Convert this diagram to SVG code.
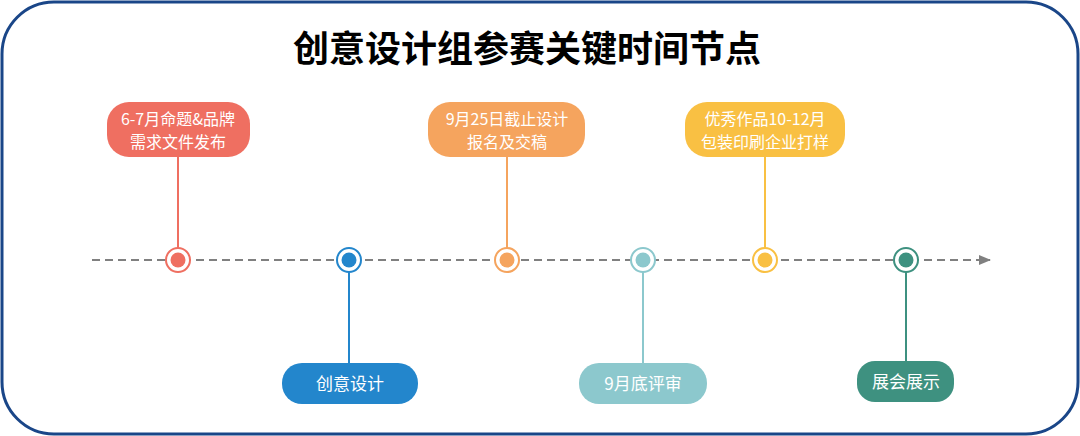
<svg xmlns="http://www.w3.org/2000/svg" width="1080" height="436" viewBox="0 0 1080 436">
<defs>
<style>
.t{font-family:"Noto Sans CJK SC","Noto Sans",sans-serif;font-size:16px;fill:#ffffff;text-anchor:middle}
.t2{font-family:"Noto Sans CJK SC","Noto Sans",sans-serif;font-size:17px;fill:#ffffff;text-anchor:middle}
.title{font-family:"Noto Sans CJK SC","Noto Sans",sans-serif;font-size:36px;font-weight:bold;fill:#000000;text-anchor:middle}
.ring{fill:#ffffff;stroke-width:2}
.stem{stroke-width:2;fill:none}
</style>
<marker id="arr" markerWidth="12" markerHeight="10" refX="11" refY="5" orient="auto" markerUnits="userSpaceOnUse">
<path d="M0,0 L12,5 L0,10 Z" fill="#808080"/>
</marker>
</defs>
<rect x="0" y="0" width="1080" height="436" fill="#ffffff"/>
<rect x="2" y="2" width="1076" height="432" rx="52" ry="52" fill="#ffffff" stroke="#1a4688" stroke-width="3"/>
<text class="title" x="527" y="62">创意设计组参赛关键时间节点</text>
<g id="connectors">
<line x1="92" y1="260" x2="990" y2="260" stroke="#808080" stroke-width="2" stroke-dasharray="8,5" marker-end="url(#arr)"/>
<line class="stem" x1="178" y1="157" x2="178" y2="248" stroke="#ef6f61"/>
<line class="stem" x1="349" y1="272" x2="349" y2="364" stroke="#2386cc"/>
<line class="stem" x1="507" y1="157" x2="507" y2="248" stroke="#f5a45e"/>
<line class="stem" x1="643" y1="272" x2="643" y2="364" stroke="#8cc8cd"/>
<line class="stem" x1="765" y1="157" x2="765" y2="248" stroke="#f9c043"/>
<line class="stem" x1="906" y1="272" x2="906" y2="362" stroke="#3e9180"/>
</g>
<g id="n1">
<rect x="107" y="102" width="143" height="55" rx="22" fill="#ef6f61"/>
<text class="t" x="178" y="125"><tspan x="178" y="125">6-7月命题&amp;品牌</tspan><tspan x="178" y="148">需求文件发布</tspan></text>
<circle class="ring" cx="178" cy="260" r="12" stroke="#ef6f61"/>
<circle cx="178" cy="260" r="7.5" fill="#ef6f61"/>
</g>
<g id="n2">
<rect x="282" y="363" width="136" height="41" rx="20" fill="#2386cc"/>
<text class="t2" x="350" y="390">创意设计</text>
<circle class="ring" cx="349" cy="260" r="12" stroke="#2386cc"/>
<circle cx="349" cy="260" r="7.5" fill="#2386cc"/>
</g>
<g id="n3">
<rect x="428" y="102" width="157" height="55" rx="22" fill="#f5a45e"/>
<text class="t" x="507" y="125"><tspan x="507" y="125">9月25日截止设计</tspan><tspan x="507" y="148">报名及交稿</tspan></text>
<circle class="ring" cx="507" cy="260" r="12" stroke="#f5a45e"/>
<circle cx="507" cy="260" r="7.5" fill="#f5a45e"/>
</g>
<g id="n4">
<rect x="579" y="363" width="128" height="41" rx="20" fill="#8cc8cd"/>
<text class="t2" x="643" y="390">9月底评审</text>
<circle class="ring" cx="643" cy="260" r="12" stroke="#8cc8cd"/>
<circle cx="643" cy="260" r="7.5" fill="#8cc8cd"/>
</g>
<g id="n5">
<rect x="685" y="102" width="160" height="55" rx="22" fill="#f9c043"/>
<text class="t" x="765" y="125"><tspan x="765" y="125">优秀作品10-12月</tspan><tspan x="765" y="148">包装印刷企业打样</tspan></text>
<circle class="ring" cx="765" cy="260" r="12" stroke="#f9c043"/>
<circle cx="765" cy="260" r="7.5" fill="#f9c043"/>
</g>
<g id="n6">
<rect x="857" y="361" width="97" height="41" rx="18" fill="#3e9180"/>
<text class="t2" x="906" y="388">展会展示</text>
<circle class="ring" cx="906" cy="260" r="12" stroke="#3e9180"/>
<circle cx="906" cy="260" r="7.5" fill="#3e9180"/>
</g>
</svg>
